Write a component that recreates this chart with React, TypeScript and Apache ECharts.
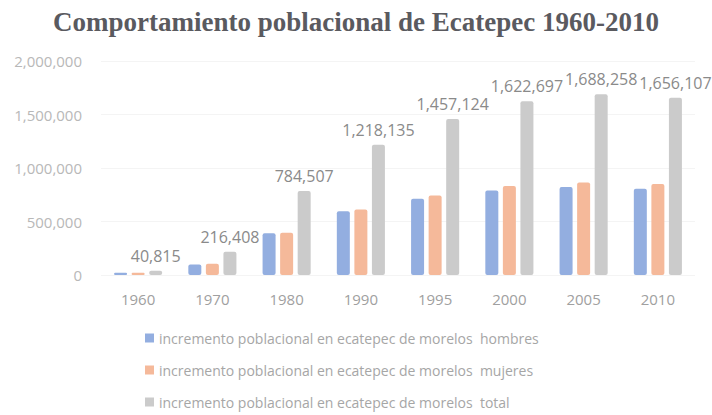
import React, { useEffect, useRef } from "react";
import * as echarts from "echarts";

const categories = ["1960", "1970", "1980", "1990", "1995", "2000", "2005", "2010"];
const hombres = [20500, 98000, 390000, 596000, 713000, 790000, 823000, 806443];
const mujeres = [20315, 104000, 394500, 612000, 744124, 832697, 865258, 849664];
const total = [40815, 216408, 784507, 1218135, 1457124, 1622697, 1688258, 1656107];
const seriesNames = [
  "incremento poblacional en ecatepec de morelos  hombres",
  "incremento poblacional en ecatepec de morelos  mujeres",
  "incremento poblacional en ecatepec de morelos  total",
];
const yTicks = { min: 0, max: 2000000, interval: 500000 };

export default function App() {
  const ref = useRef<HTMLDivElement>(null);
  useEffect(() => {
    if (!ref.current) return;
    const chart = echarts.init(ref.current, null, { renderer: "svg" });
    const font = "Open Sans";
    chart.setOption({
      animation: false,
      backgroundColor: "#ffffff",
      title: {
        text: "Comportamiento poblacional de Ecatepec 1960-2010",
        left: "center",
        top: 3,
        textStyle: {
          fontFamily: "Liberation Serif",
          fontWeight: "bold",
          fontSize: 27,
          color: "#5a5a5f",
        },
      },
      grid: { left: 101, right: 17, top: 61, bottom: 140 },
      legend: {
        orient: "vertical",
        left: 140,
        top: 326,
        height: 120,
        itemGap: 18,
        itemWidth: 9,
        itemHeight: 9,
        icon: "rect",
        textStyle: { fontFamily: font, fontSize: 14, color: "#a6a6a6" },
        data: seriesNames,
      },
      xAxis: {
        type: "category",
        data: categories,
        axisLine: { show: false },
        axisTick: { show: false },
        axisLabel: { fontFamily: font, fontSize: 15, color: "#a0a0a0", margin: 16 },
      },
      yAxis: {
        type: "value",
        min: yTicks.min,
        max: yTicks.max,
        interval: yTicks.interval,
        axisLine: { show: false },
        axisTick: { show: false },
        splitLine: { lineStyle: { color: "#f4f4f4" } },
        axisLabel: {
          fontFamily: font,
          fontSize: 15,
          color: "#b8b8b8",
          margin: 19,
          formatter: (v: number) => v.toLocaleString("en-US"),
        },
      },
      series: [
        {
          name: seriesNames[0],
          type: "bar",
          data: hombres,
          barWidth: 13,
          barGap: "35%",
          itemStyle: { color: "#93aee0", borderRadius: 2 },
        },
        {
          name: seriesNames[1],
          type: "bar",
          data: mujeres,
          barWidth: 13,
          barGap: "35%",
          itemStyle: { color: "#f5b99a", borderRadius: 2 },
        },
        {
          name: seriesNames[2],
          type: "bar",
          data: total,
          barWidth: 13,
          barGap: "35%",
          itemStyle: { color: "#cbcbcb", borderRadius: 2 },
          label: {
            show: true,
            position: "top",
            distance: 7,
            fontFamily: font,
            fontSize: 16,
            color: "#8a8a8a",
            formatter: (p: any) => Number(p.value).toLocaleString("en-US"),
          },
        },
      ],
    });
    return () => chart.dispose();
  }, []);
  return (
    <div
      ref={ref}
      style={{ position: "fixed", left: 0, top: 0, width: 712, height: 415 }}
    />
  );
}
